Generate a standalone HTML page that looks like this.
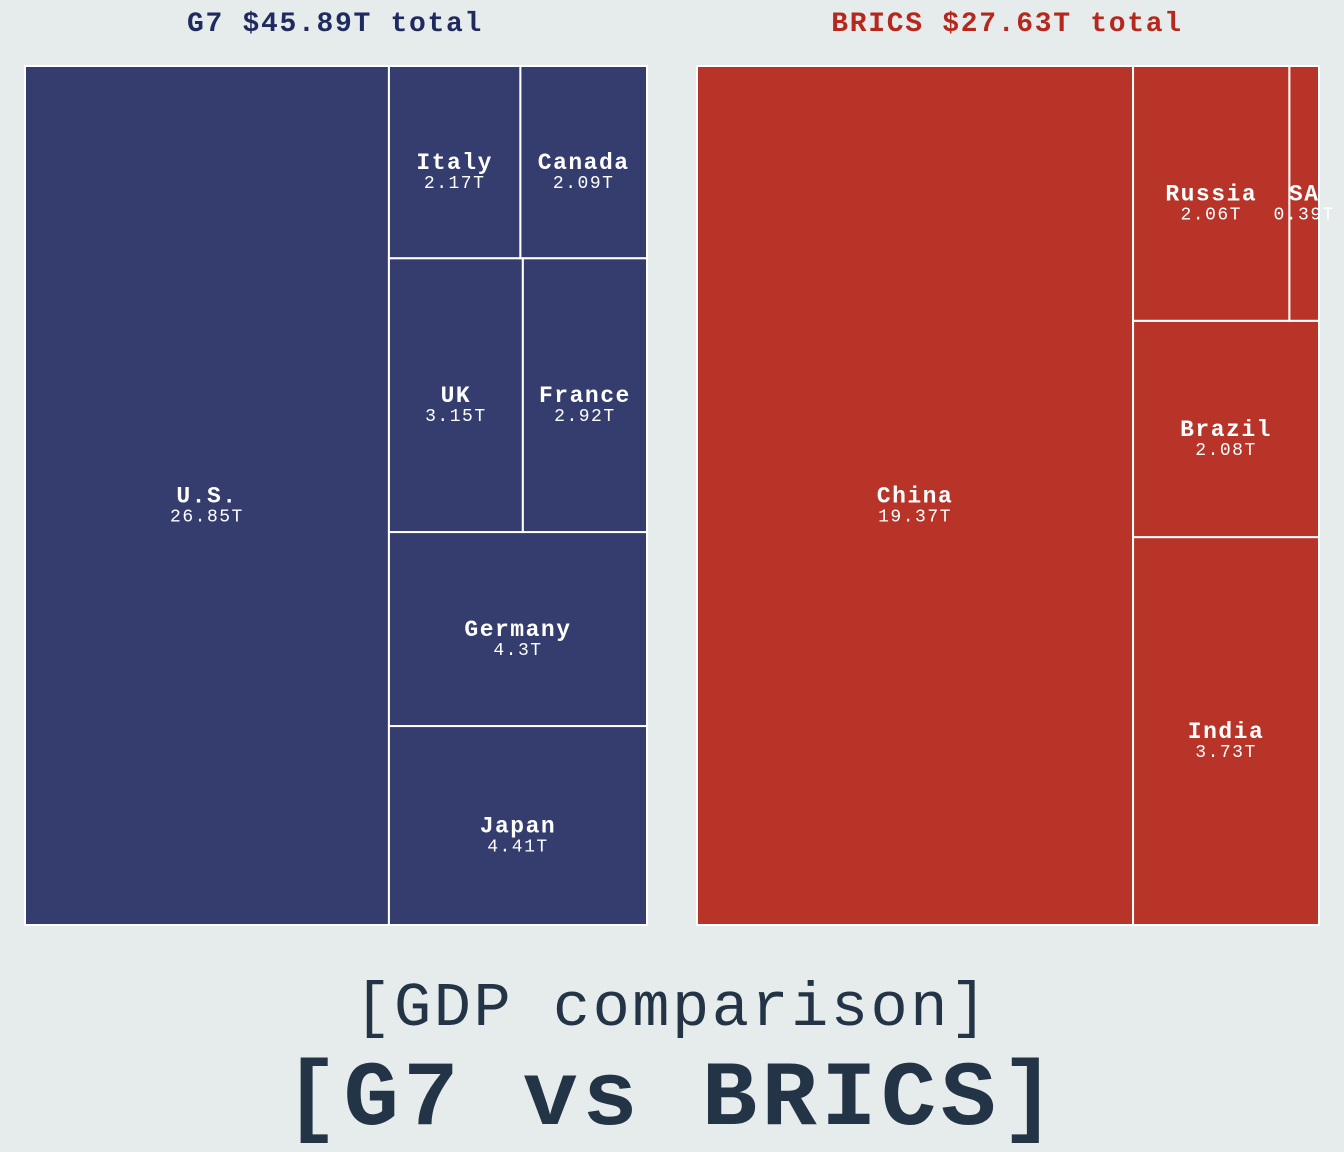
<!DOCTYPE html>
<html><head><meta charset="utf-8">
<style>
html,body{margin:0;padding:0;background:#e6eceb;}
svg{display:block;}
text{font-family:"Liberation Mono","Courier New",monospace;}
</style></head>
<body>
<svg id="chart" width="1344" height="1152" viewBox="0 0 1344 1152">
  <rect x="0" y="0" width="1344" height="1152" fill="#e6eceb"/>
  <text x="335" y="31" text-anchor="middle" font-size="28" letter-spacing="1.7" font-weight="bold" fill="#1f2a5e">G7 $45.89T total</text>
  <text x="1007" y="31" text-anchor="middle" font-size="28" letter-spacing="1.7" font-weight="bold" fill="#b5281e">BRICS $27.63T total</text>
  <g id="g7"></g>
  <g id="brics"></g>
  <text x="672" y="1025" text-anchor="middle" font-size="62" letter-spacing="2.5" fill="#243447">[GDP comparison]</text>
  <text x="672" y="1124" text-anchor="middle" font-size="92" letter-spacing="4.5" font-weight="bold" fill="#243447">[G7 vs BRICS]</text>
</svg>
<script>
// G7 data: first item is the big column; remaining items are stacked rows (bottom to top)
const g7Lead = ["U.S.", 26.85];
const g7Rows = [[["Japan",4.41]],[["Germany",4.3]],[["UK",3.15],["France",2.92]],[["Italy",2.17],["Canada",2.09]]];
const bricsLead = ["China", 19.37];
const bricsRows = [[["India",3.73]],[["Brazil",2.08]],[["Russia",2.06],["SA",0.39]]];

const NS = "http://www.w3.org/2000/svg";
function mk(tag, attrs, parent){
  const e = document.createElementNS(NS, tag);
  for (const k in attrs) e.setAttribute(k, attrs[k]);
  parent.appendChild(e); return e;
}
function fmt(v){ return (Math.round(v*100)/100) + "T"; }
function cell(g, name, val, x, y, w, h, color){
  const r = mk("rect", {x:x, y:y, width:w, height:h, fill:color, stroke:"#ffffff", "stroke-width":2}, g);
  
  
  const cx = x + w/2, cy = y + h/2;
  const t1 = mk("text", {x:cx, y:cy+7, "text-anchor":"middle", "font-size":23, "letter-spacing":1.5, "font-weight":"bold", fill:"#ffffff"}, g);
  t1.textContent = name;
  
  
  const t2 = mk("text", {x:cx, y:cy+26, "text-anchor":"middle", "font-size":18, "letter-spacing":1.5, fill:"#ffffff"}, g);
  t2.textContent = fmt(val);
  
  
}
function layout(gid, lead, rows, x0, y0, W, H, color){
  const g = document.getElementById(gid);
  let total = lead[1];
  rows.forEach(r => r.forEach(it => total += it[1]));
  const lw = W * lead[1] / total;
  const rest = total - lead[1];
  const rx = x0 + lw, rw = W - lw;
  let yb = y0 + H;
  cell(g, lead[0], lead[1], x0, y0, lw, H, color);
  rows.forEach(row => {
    const s = row.reduce((a,it)=>a+it[1],0);
    const rh = H * s / rest;
    let xx = rx;
    row.forEach(it => {
      const cw = rw * it[1] / s;
      cell(g, it[0], it[1], xx, yb - rh, cw, rh, color);
      xx += cw;
    });
    yb -= rh;
  });
}
layout("g7", g7Lead, g7Rows, 25, 66, 622, 859, "#343d6e");
layout("brics", bricsLead, bricsRows, 697, 66, 622, 859, "#b83428");
</script>
</body></html>
